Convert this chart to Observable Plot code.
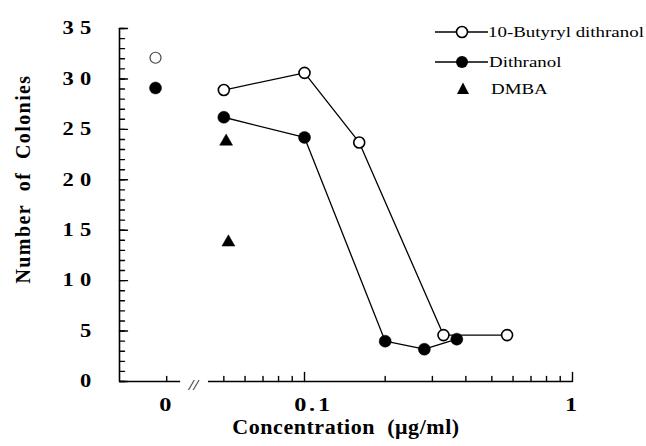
<!DOCTYPE html>
<html>
<head>
<meta charset="utf-8">
<script src="https://cdn.jsdelivr.net/npm/d3@7"></script>
<script src="https://cdn.jsdelivr.net/npm/@observablehq/plot@0.6"></script>
<style>
  body { margin: 0; background: #fff; }
  #wrap { position: relative; width: 646px; height: 446px; font-family: "Liberation Serif", "Times New Roman", serif; color: #000; }
  #legend .row { position: absolute; height: 20px; display: flex; align-items: center; }
  #legend .row svg { display: block; }
  #legend .row span { font-size: 15px; display: inline-block; transform: scaleX(1.26); transform-origin: left center; white-space: nowrap; }
</style>
</head>
<body>
<div id="wrap"><div id="legend"></div></div>
<script>
// ---- data ----
const seriesNames = ["10-Butyryl dithranol", "Dithranol", "DMBA"];

// concentration (µg/ml) and number of colonies
const butyrylConc = [0.05, 0.1, 0.16, 0.33, 0.57];
const butyrylColonies = [28.9, 30.6, 23.7, 4.6, 4.6];

const dithranolConc = [0.05, 0.1, 0.2, 0.28, 0.37];
const dithranolColonies = [26.2, 24.2, 4.0, 3.2, 4.2];

const dmbaConc = [0.051, 0.052];
const dmbaColonies = [23.8, 13.8];

// control (concentration 0), shown left of the axis break
const zeroSeries = ["10-Butyryl dithranol", "Dithranol"];
const zeroColonies = [32.1, 29.1];

// ticks and labels
const yMajorTicks = [0, 5, 10, 15, 20, 25, 30, 35];
const yMinorTicks = d3.range(0, 36);
const xMinorTicks = [0.05, 0.06, 0.07, 0.08, 0.09, 0.2, 0.3, 0.4, 0.5, 0.6, 0.7, 0.8, 0.9];
const xMajorTicks = [0.1, 1];
const xTickLabels = ["0.1", "1"];
const zeroLabel = "0";

// broken log axis layout (positions on the concentration axis)
const X_START = 0.0204;     // left end of the x axis (y axis position)
const ZERO_POINT = 0.0278;  // where the concentration-0 points sit
const ZERO_TICK = 0.0306;   // the "0" tick
const BREAK_LEFT = 0.0345;
const BREAK_MID = 0.0385;
const BREAK_RIGHT = 0.0438;

// ---- tables ----
const butyryl = butyrylConc.map((c, i) => ({conc: c, colonies: butyrylColonies[i]}));
const dithranol = dithranolConc.map((c, i) => ({conc: c, colonies: dithranolColonies[i]}));
const dmba = dmbaConc.map((c, i) => ({conc: c, colonies: dmbaColonies[i]}));
const zeros = zeroSeries.map((s, i) => ({series: s, colonies: zeroColonies[i]}));

const tickRight = {draw(ctx, l) { ctx.moveTo(0, 0); ctx.lineTo(l, 0); }};
const tickUp = {draw(ctx, l) { ctx.moveTo(0, 0); ctx.lineTo(0, -l); }};

const R = 6;

const chart = Plot.plot({
  width: 646,
  height: 446,
  marginLeft: 119,
  marginRight: 74,
  marginTop: 28,
  marginBottom: 65,
  x: {type: "log", domain: [X_START, 1], axis: null},
  y: {domain: [0, 35], axis: null},
  style: {fontFamily: "'Liberation Serif', 'Times New Roman', serif", background: "white", color: "black"},
  marks: [
    // axis lines
    Plot.ruleX([X_START], {y1: 0, y2: 35, strokeWidth: 1.6}),
    Plot.ruleY([0], {x1: X_START, x2: BREAK_LEFT, strokeWidth: 1.6}),
    Plot.ruleY([0], {x1: BREAK_RIGHT, x2: 1, strokeWidth: 1.6}),
    // y ticks (inward)
    Plot.vector(yMinorTicks, {x: X_START, y: d => d, length: 5, shape: tickRight, anchor: "start", strokeWidth: 1.4}),
    Plot.vector(yMajorTicks, {x: X_START, y: d => d, length: 8, shape: tickRight, anchor: "start", strokeWidth: 1.4}),
    // x ticks (inward)
    Plot.vector(xMinorTicks, {x: d => d, y: 0, length: 5, shape: tickUp, anchor: "start", strokeWidth: 1.4}),
    Plot.vector(xMajorTicks, {x: d => d, y: 0, length: 9, shape: tickUp, anchor: "start", strokeWidth: 1.4}),
    Plot.vector([ZERO_TICK], {x: d => d, y: 0, length: 5, shape: tickUp, anchor: "start", strokeWidth: 1.4}),
    // axis break mark
    Plot.text(["//"], {x: BREAK_MID, y: 0, dy: 4, fontSize: 14, fontStyle: "italic", className: "stretch"}),
    // y tick labels
    Plot.text(yMajorTicks, {x: X_START, y: d => d, text: d => String(d), textAnchor: "end", dx: -22, fontSize: 18, fontWeight: "bold", className: "ylab"}),
    // x tick labels
    Plot.text([zeroLabel], {x: ZERO_TICK, y: 0, dy: 24, fontSize: 18, fontWeight: "bold", className: "xlab"}),
    Plot.text([xTickLabels[0]], {x: xMajorTicks[0], y: 0, dy: 24, dx: 9, fontSize: 18, fontWeight: "bold", className: "xlab"}),
    Plot.text([xTickLabels[1]], {x: xMajorTicks[1], y: 0, dy: 24, fontSize: 18, fontWeight: "bold", className: "xlab"}),
    // axis titles
    Plot.text(["Number\u00a0 of\u00a0 Colonies"], {frameAnchor: "left", textAnchor: "middle", dx: -96, dy: -26, rotate: -90, fontSize: 20, fontWeight: "bold", className: "ytitle"}),
    Plot.text(["Concentration\u00a0 (\u03bcg/ml)"], {frameAnchor: "bottom", dy: 52, fontSize: 20, fontWeight: "bold", className: "xtitle"}),
    // series lines
    Plot.line(butyryl, {x: "conc", y: "colonies", stroke: "black", strokeWidth: 1.3}),
    Plot.line(dithranol, {x: "conc", y: "colonies", stroke: "black", strokeWidth: 1.3}),
    // points
    Plot.dot(butyryl, {x: "conc", y: "colonies", r: R - 0.5, fill: "white", stroke: "black", strokeWidth: 1.6}),
    Plot.dot(dithranol, {x: "conc", y: "colonies", r: R, fill: "black", stroke: "black", strokeWidth: 0.5}),
    Plot.dot(dmba, {x: "conc", y: "colonies", r: 4.8, symbol: "triangle", fill: "black", stroke: "black", strokeWidth: 0.5}),
    Plot.dot(zeros.filter(d => d.series === seriesNames[0]), {x: ZERO_POINT, y: "colonies", r: R - 0.5, fill: "white", stroke: "#444", strokeWidth: 1.2}),
    Plot.dot(zeros.filter(d => d.series === seriesNames[1]), {x: ZERO_POINT, y: "colonies", r: R, fill: "black", stroke: "black", strokeWidth: 0.5})
  ]
});

const wrap = document.getElementById("wrap");
wrap.insertBefore(chart, wrap.firstChild);

// widen the serif lettering like the scanned original
function stretch(sel, f, spacing) {
  chart.querySelectorAll(sel + " text").forEach(t => {
    if (spacing != null) t.style.letterSpacing = spacing + "px";
    const L = t.getComputedTextLength();
    if (L > 0) {
      t.setAttribute("textLength", (L * f).toFixed(1));
      t.setAttribute("lengthAdjust", "spacingAndGlyphs");
    }
  });
}
stretch(".ylab", 1.25, 5);
stretch(".xlab", 1.35, 2);
stretch(".xtitle", 1.1, 0.5);
stretch(".stretch", 1.2, 0);
chart.querySelectorAll(".ytitle text").forEach(t => { t.style.letterSpacing = "1.4px"; });

// legend
const legend = document.getElementById("legend");
const legendRows = [
  {name: seriesNames[0], top: 22, line: true, marker: `<circle cx="27" cy="10" r="5.5" fill="white" stroke="black" stroke-width="1.6"/>`, textLeft: 488},
  {name: seriesNames[1], top: 52, line: true, marker: `<circle cx="27" cy="10" r="6" fill="black"/>`, textLeft: 489},
  {name: seriesNames[2], top: 79, line: false, marker: `<path d="M28,3.5 L34,15 L22,15 Z" fill="black"/>`, textLeft: 491}
];
legendRows.forEach(r => {
  const row = document.createElement("div");
  row.className = "row";
  row.style.left = "435px";
  row.style.top = r.top + "px";
  const svgW = r.textLeft - 435;
  row.innerHTML = `<svg width="${svgW}" height="20">${r.line ? `<line x1="0" x2="53" y1="10" y2="10" stroke="black" stroke-width="1.4"/>` : ""}${r.marker}</svg><span>${r.name}</span>`;
  legend.appendChild(row);
});
</script>
</body>
</html>
